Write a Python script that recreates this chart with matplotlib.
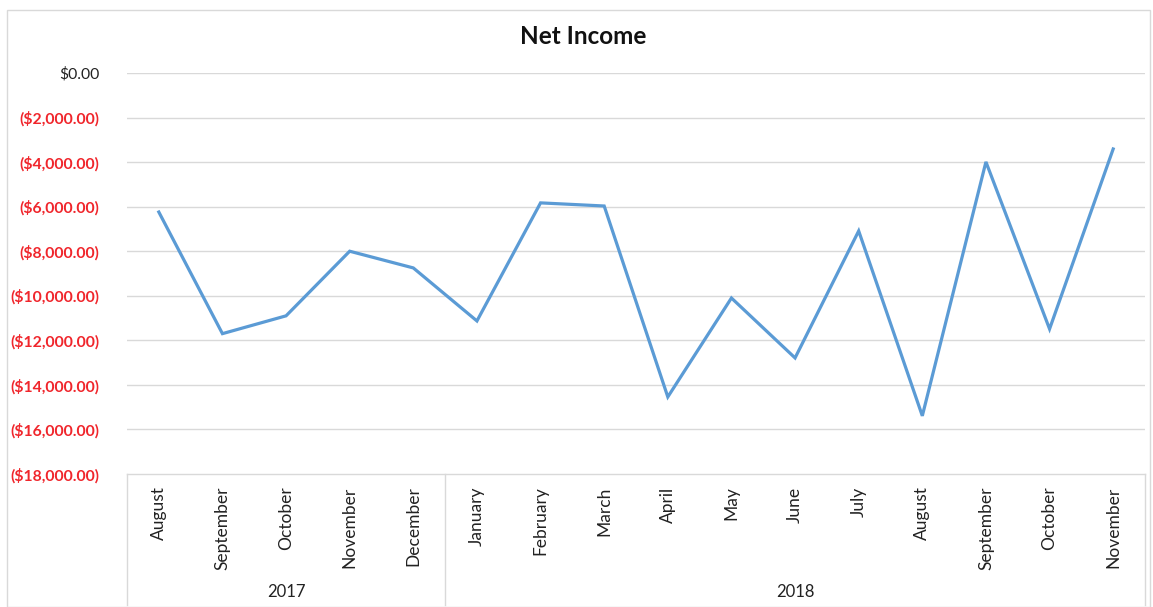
import numpy as np
import matplotlib.pyplot as plt
from matplotlib.patches import Rectangle
from matplotlib.ticker import FuncFormatter

plt.rcParams['font.family'] = ['Lato', 'DejaVu Sans']

# Du lieu doc tu hinh
months = ["August", "September", "October", "November", "December",
          "January", "February", "March", "April", "May", "June", "July",
          "August", "September", "October", "November"]
years = ["2017", "2018"]
year_counts = [5, 11]
net_income = [-6240, -11700, -10900, -8000, -8750,
              -11130, -5830, -5970, -14540, -10100, -12790, -7090,
              -15390, -3990, -11490, -3410]
y_ticks = np.arange(-18000, 1, 2000)

fig = plt.figure(figsize=(11.53, 6.07), dpi=100)
ax = fig.add_axes([127 / 1153, 1 - 474 / 607, 1018 / 1153, 401 / 607])

x = np.arange(len(months))
ax.plot(x, net_income, color="#5B9BD5", linewidth=2.3, solid_joinstyle="miter")

ax.set_xlim(-0.5, len(months) - 0.5)
ax.set_ylim(-18000, 0)
ax.set_yticks(y_ticks)


def money(v, pos):
    if v < 0:
        return "(${:,.2f})".format(-v)
    return "${:,.2f}".format(v)


ax.yaxis.set_major_formatter(FuncFormatter(money))
ax.tick_params(axis="y", length=0, pad=20, labelsize=11.3)
for lab, v in zip(ax.get_yticklabels(), y_ticks):
    lab.set_color("#F0262C" if v < 0 else "#222222")
    lab.set_fontweight("bold" if v < 0 else "normal")

ax.set_xticks(x)
ax.set_xticklabels(months, rotation=90, fontsize=12.5, color="#222222")
ax.tick_params(axis="x", length=0, pad=9)

for v in y_ticks[1:]:
    ax.axhline(v, color="#D9D9D9", linewidth=1.0, zorder=0)
for s in ax.spines.values():
    s.set_visible(False)

# Khung phan loai nam
trans = ax.get_xaxis_transform()
box_bottom = -(605 - 474) / 401
ax.plot([-0.5, len(months) - 0.5], [0, 0], color="#D9D9D9", linewidth=1.0,
        transform=trans, clip_on=False)
edges = np.concatenate([[0], np.cumsum(year_counts)]) - 0.5
for e in edges:
    ax.plot([e, e], [0, box_bottom], color="#D9D9D9", linewidth=1.0,
            transform=trans, clip_on=False)
for i, yr in enumerate(years):
    mid = (edges[i] + edges[i + 1]) / 2
    ax.text(mid, -(592 - 474) / 401, yr, transform=trans, ha="center",
            va="center", fontsize=12, color="#222222")

fig.text(583 / 1153, 1 - 37 / 607, "Net Income", ha="center", va="center",
         fontsize=17.5, fontweight="bold", color="#111111")

fig.patches.append(Rectangle((7 / 1153, 0.0), 1143 / 1153, 1 - 10 / 607,
                             transform=fig.transFigure, fill=False,
                             edgecolor="#D9D9D9", linewidth=1.0))

fig.savefig("out.png", dpi=100, facecolor="white")
